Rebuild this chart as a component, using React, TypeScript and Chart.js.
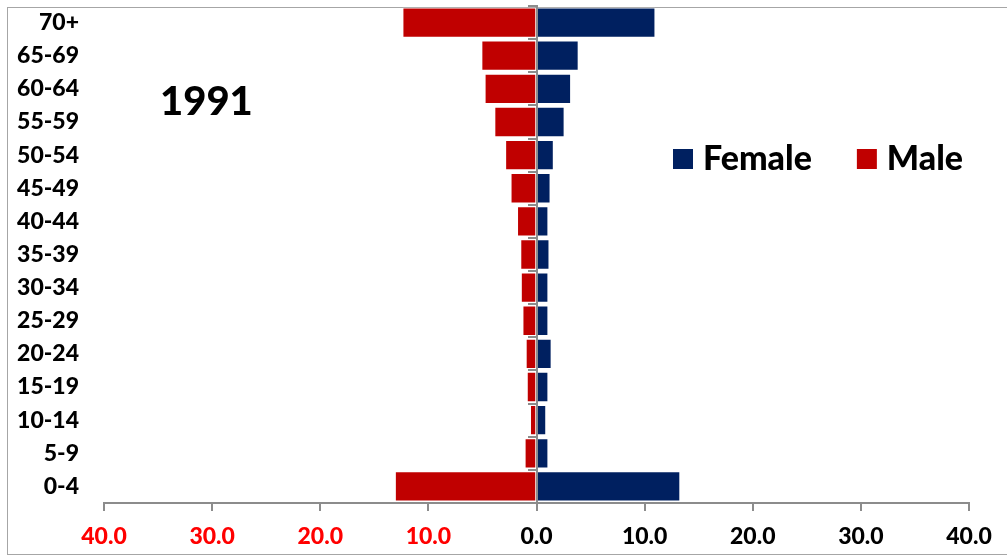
import { useEffect, useRef } from "react";
import { Chart, registerables } from "chart.js";

Chart.register(...registerables);

// Age groups, youngest first (drawn bottom to top)
const ageGroups = [
  "0-4", "5-9", "10-14", "15-19", "20-24", "25-29", "30-34", "35-39",
  "40-44", "45-49", "50-54", "55-59", "60-64", "65-69", "70+",
];

// Percentage shares per age group
const femaleShare = [13.3, 1.1, 0.9, 1.1, 1.4, 1.1, 1.1, 1.2, 1.1, 1.3, 1.6, 2.6, 3.2, 3.9, 11.0];
const maleShare = [13.1, 1.1, 0.6, 0.9, 1.0, 1.3, 1.45, 1.5, 1.8, 2.4, 2.9, 3.9, 4.8, 5.1, 12.4];

const seriesNames = ["Female", "Male"];
const seriesColors = ["#002060", "#C00000"];

const axisMin = -40;
const axisMax = 40;
const axisStep = 10;

const yearLabel = "1991";

const FONT = "Lato, 'Open Sans', 'DejaVu Sans', sans-serif";
const WEIGHT = "900";
const AXIS_GREY = "#8c8c8c";

// Outer frame, year caption and legend drawn on the canvas
const decorations = {
  id: "decorations",
  beforeDraw(chart: any) {
    const ctx = chart.ctx as CanvasRenderingContext2D;
    ctx.save();
    ctx.strokeStyle = "#a6a6a6";
    ctx.lineWidth = 1;
    ctx.strokeRect(7.5, 7.5, chart.width + 20, 547);
    ctx.restore();
  },
  afterDraw(chart: any) {
    const ctx = chart.ctx as CanvasRenderingContext2D;
    ctx.save();
    ctx.fillStyle = "#000";
    ctx.textAlign = "left";
    ctx.textBaseline = "alphabetic";
    ctx.font = `${WEIGHT} 40px ${FONT}`;
    ctx.fillText(yearLabel, 160, 115);

    ctx.font = `${WEIGHT} 34px ${FONT}`;
    let x = 673;
    chart.data.datasets.forEach((ds: any) => {
      ctx.fillStyle = ds.backgroundColor;
      ctx.fillRect(x, 149, 20, 20);
      ctx.fillStyle = "#000";
      ctx.fillText(ds.label, x + 30, 169.5);
      x += 30 + ctx.measureText(ds.label).width + 45;
    });
    ctx.restore();
  },
};

export default function App() {
  const canvasRef = useRef<HTMLCanvasElement | null>(null);

  useEffect(() => {
    const canvas = canvasRef.current;
    if (!canvas) return;

    const chart = new Chart(canvas, {
      type: "bar",
      data: {
        labels: ageGroups,
        datasets: [
          {
            label: seriesNames[0],
            data: femaleShare,
            backgroundColor: seriesColors[0],
            borderColor: "rgba(255,255,255,0.45)",
            borderWidth: 1,
            barPercentage: 0.915,
            categoryPercentage: 1,
          },
          {
            label: seriesNames[1],
            data: maleShare.map((v) => -v),
            backgroundColor: seriesColors[1],
            borderColor: "rgba(255,255,255,0.45)",
            borderWidth: 1,
            barPercentage: 0.915,
            categoryPercentage: 1,
          },
        ],
      },
      options: {
        indexAxis: "y",
        animation: false,
        responsive: false,
        events: [],
        layout: { padding: { top: 6, left: 0, right: 38, bottom: 0 } },
        plugins: {
          legend: { display: false },
          tooltip: { enabled: false },
          title: { display: false },
        },
        scales: {
          x: {
            type: "linear",
            min: axisMin,
            max: axisMax,
            stacked: true,
            ticks: {
              stepSize: axisStep,
              autoSkip: false,
              maxRotation: 0,
              padding: 12,
              callback: (v: any) => Math.abs(Number(v)).toFixed(1),
              color: (c: any) => (c.tick && c.tick.value < 0 ? "#FF0000" : "#000000"),
              font: { family: FONT, size: 23, weight: WEIGHT },
            },
            grid: {
              drawOnChartArea: false,
              drawTicks: true,
              tickLength: 8,
              color: AXIS_GREY,
              lineWidth: 2,
            },
            border: { display: true, color: AXIS_GREY, width: 2 },
            afterFit: (s: any) => {
              s.height = 53;
            },
          },
          y: {
            type: "category",
            stacked: true,
            reverse: true,
            position: "left",
            ticks: {
              padding: 25,
              color: "#000",
              font: { family: FONT, size: 23, weight: WEIGHT },
            },
            grid: { display: false, drawTicks: false },
            border: { display: false },
            afterFit: (s: any) => {
              s.width = 104;
              s.paddingTop = 0;
              s.paddingBottom = 0;
            },
          },
          y2: {
            type: "category",
            reverse: true,
            offset: true,
            position: { x: 0 },
            ticks: { display: false },
            grid: {
              offset: true,
              drawOnChartArea: false,
              drawTicks: true,
              tickLength: 8,
              color: AXIS_GREY,
              lineWidth: 2,
              z: 1,
            },
            border: { display: true, color: AXIS_GREY, width: 2, z: 1 },
            afterFit: (s: any) => {
              s.paddingTop = 0;
              s.paddingBottom = 0;
            },
          },
        },
      } as any,
      plugins: [decorations],
    });

    return () => chart.destroy();
  }, []);

  return (
    <div style={{ position: "fixed", left: 0, top: 0, width: 1007, height: 556, background: "#fff" }}>
      <canvas ref={canvasRef} width={1007} height={556} />
    </div>
  );
}
